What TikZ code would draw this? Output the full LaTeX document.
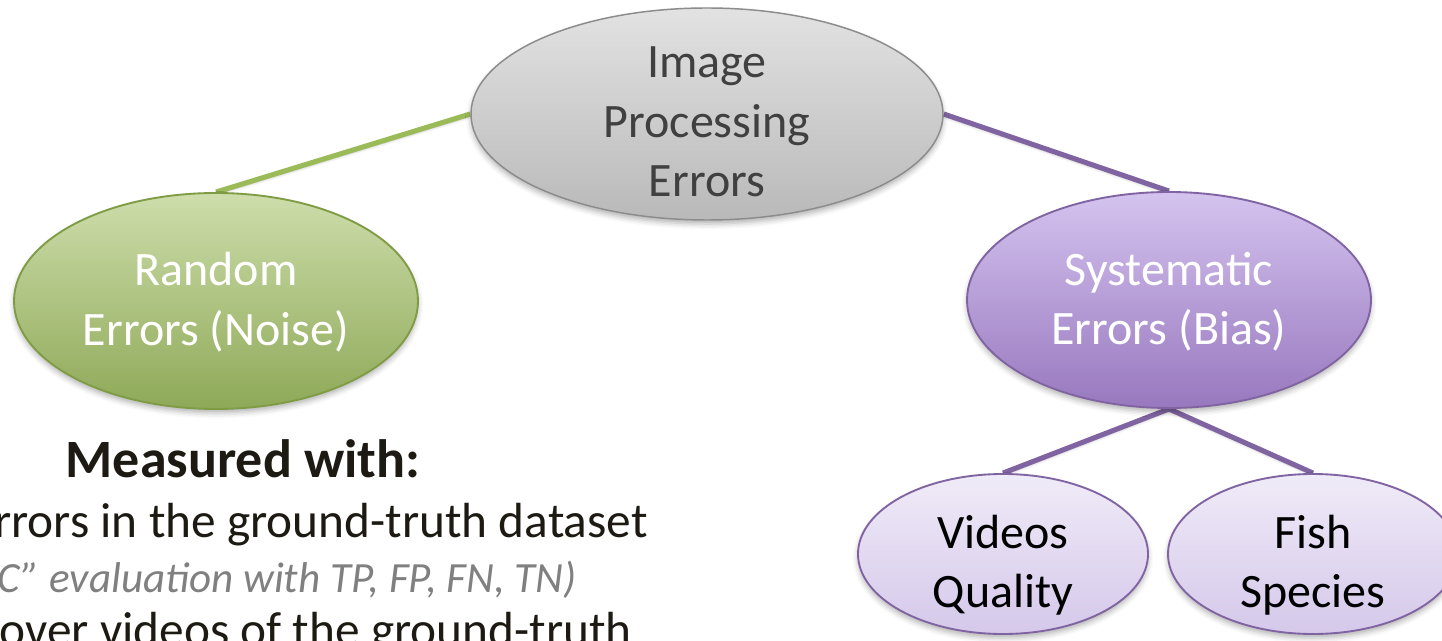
\documentclass[tikz,border=0pt]{standalone}
\usepackage{fontspec}
\setmainfont{Carlito}
\usetikzlibrary{shapes.geometric,shadows.blur}

\definecolor{grayline}{HTML}{8C8C8C}
\definecolor{graytop}{HTML}{E2E2E2}
\definecolor{graybot}{HTML}{B9B9B9}
\definecolor{graytext}{HTML}{404040}
\definecolor{greenline}{HTML}{9BBB59}
\definecolor{greenedge}{HTML}{7F9C45}
\definecolor{greentop}{HTML}{CEDDAB}
\definecolor{greenbot}{HTML}{8EA958}
\definecolor{purpline}{HTML}{8064A2}
\definecolor{purptop}{HTML}{D4C3EF}
\definecolor{purpbot}{HTML}{9878BE}
\definecolor{lavtop}{HTML}{F0EBF8}
\definecolor{lavbot}{HTML}{D5C8EA}
\definecolor{inktext}{HTML}{1C1A12}
\definecolor{notegray}{HTML}{808080}

\pgfdeclarelayer{background}
\pgfsetlayers{background,main}

\begin{document}
\begin{tikzpicture}[x=0.75pt,y=-0.75pt,
  bubble/.style={ellipse, inner sep=0pt,
    blur shadow={shadow xshift=0pt, shadow yshift=-3pt,
      shadow blur radius=4pt, shadow opacity=30}},
  graybubble/.style={bubble, draw=grayline, line width=1.1pt,
    top color=graytop, bottom color=graybot,
    minimum width=354pt, minimum height=159pt},
  greenbubble/.style={bubble, draw=greenedge, line width=1.4pt,
    top color=greentop, bottom color=greenbot,
    minimum width=303pt, minimum height=162pt},
  purpbubble/.style={bubble, draw=purpline, line width=1.4pt,
    top color=purptop, bottom color=purpbot,
    minimum width=303pt, minimum height=162pt},
  lavbubble/.style={bubble, draw=purpline, line width=1.4pt,
    top color=lavtop, bottom color=lavbot,
    minimum width=217.5pt, minimum height=120pt},
  bubbletext/.style={align=center, inner sep=0pt,
    font=\fontsize{36pt}{44.5pt}\selectfont},
  branch/.style={line width=3.8pt,
    blur shadow={shadow xshift=0pt, shadow yshift=-2pt,
      shadow blur radius=2pt, shadow opacity=25}},
  bodytext/.style={inner sep=0pt, text=inktext,
    font=\fontsize{37pt}{44pt}\selectfont},
]
\useasboundingbox (0,0) rectangle (1442,641);
\clip (0,0) rectangle (1442,641);

% tree of error types
\node[graybubble]  (ipe) at (707,114)  {};
\node[greenbubble] (rnd) at (216,301)  {};
\node[purpbubble]  (sys) at (1169,300) {};
\node[lavbubble]   (vq)  at (1003,554) {};
\node[lavbubble]   (fs)  at (1313,554) {};

\node[bubbletext, text=graytext] (ipeT) at (707,122) {Image\\Processing\\Errors};
\node[bubbletext, text=white] (rndT) at (216,302) {Random\\Errors (Noise)};
\node[bubbletext, text=white] (sysT) at (1169,302) {Systematic\\Errors (Bias)};
\node[bubbletext, text=black] (vqT) at (1003,565) {Videos\\Quality};
\node[bubbletext, text=black] (fsT) at (1313,565) {Fish\\Species};

\begin{pgfonlayer}{background}
  \draw[branch, greenline] (ipe.west) -- (rnd.north);
  \draw[branch, purpline]  (ipe.east) -- (sys.north);
  \draw[branch, purpline]  (sys.south) -- (vq.north);
  \draw[branch, purpline]  (sys.south) -- (fs.north);
\end{pgfonlayer}

% measurement notes
\node[anchor=base, inner sep=0pt, text=inktext,
  font=\bfseries\fontsize{40.5pt}{48pt}\selectfont] (head) at (243,477) {Measured with:};
\node[bodytext, anchor=base east] (noteA) at (648,537) {rrors in the ground-truth dataset};
\node[anchor=base east, inner sep=0pt, text=notegray,
  font=\itshape\fontsize{32.3pt}{40pt}\selectfont] (noteB) at (577,592) {C” evaluation with TP, FP, FN, TN)};
\node[bodytext, anchor=base east] (noteC) at (632,646) {over videos of the ground-truth};
\end{tikzpicture}
\end{document}
